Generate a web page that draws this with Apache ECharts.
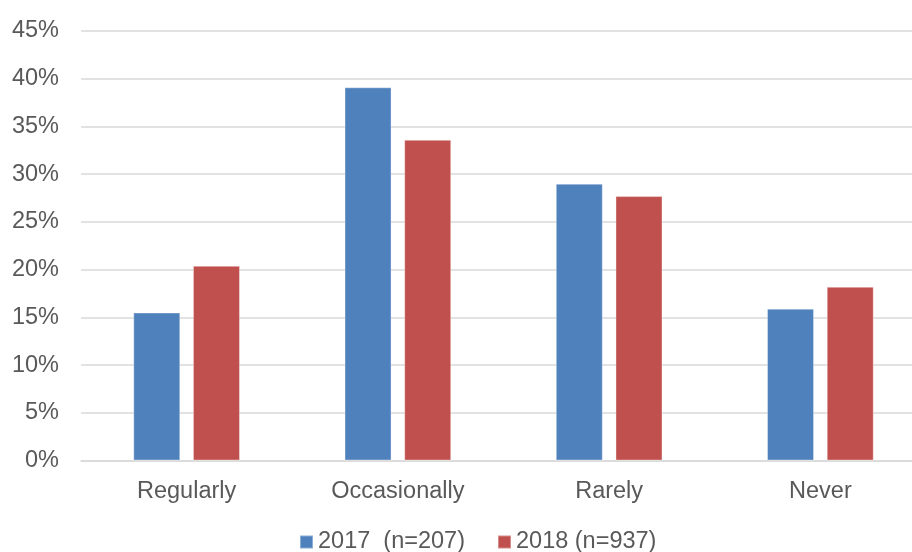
<!DOCTYPE html>
<html>
<head>
<meta charset="utf-8">
<script src="https://cdn.jsdelivr.net/npm/echarts@6/dist/echarts.min.js"></script>
<style>
  html, body { margin: 0; padding: 0; background: #ffffff; }
  #chart { width: 912px; height: 552px; }
</style>
</head>
<body>
<div id="chart"></div>
<script>
// Frequency categories and the share of respondents per survey year (%)
const categories = ['Regularly', 'Occasionally', 'Rarely', 'Never'];
const values2017 = [15.5, 39.1, 29.0, 15.9];
const values2018 = [20.4, 33.6, 27.7, 18.2];
const seriesNames = ['2017  (n=207)', '2018 (n=937)'];
const yTicks = { min: 0, max: 45, interval: 5 };

const textColor = '#595959';
const fontFamily = 'Arial, "Liberation Sans", sans-serif';
const fontSize = 23.5;

const chart = echarts.init(document.getElementById('chart'), null, { renderer: 'canvas' });

chart.setOption({
  animation: false,
  backgroundColor: '#ffffff',
  // plot area runs past the right edge so the last category keeps its full band
  grid: { left: 81, top: 31, right: -14, bottom: 91.5, containLabel: false, outerBoundsMode: 'none' },
  legend: {
    left: 294,
    top: 525,
    itemWidth: 13,
    itemHeight: 13,
    itemGap: 32,
    icon: 'rect',
    textStyle: { color: textColor, fontSize: fontSize, fontFamily: fontFamily, padding: [0, 0, 0, 0] },
    data: seriesNames
  },
  xAxis: {
    type: 'category',
    data: categories,
    axisLine: { show: true, lineStyle: { color: '#d9d9d9', width: 1.5 } },
    axisTick: { show: false },
    axisLabel: { color: textColor, fontSize: fontSize, fontFamily: fontFamily, margin: 19 }
  },
  yAxis: {
    type: 'value',
    min: yTicks.min,
    max: yTicks.max,
    interval: yTicks.interval,
    axisLine: { show: false },
    axisTick: { show: false },
    axisLabel: { color: textColor, fontSize: fontSize, fontFamily: fontFamily, margin: 22, formatter: '{value}%' },
    splitLine: { lineStyle: { color: '#d9d9d9', width: 1.5 } }
  },
  series: [
    {
      name: seriesNames[0],
      type: 'bar',
      data: values2017,
      barWidth: 47,
      barGap: '27%',
      itemStyle: { color: '#4f81bd', borderColor: 'rgba(255,255,255,0.35)', borderWidth: 1 }
    },
    {
      name: seriesNames[1],
      type: 'bar',
      data: values2018,
      barWidth: 47,
      barGap: '27%',
      itemStyle: { color: '#c0504d', borderColor: 'rgba(255,255,255,0.35)', borderWidth: 1 }
    }
  ]
});
</script>
</body>
</html>
